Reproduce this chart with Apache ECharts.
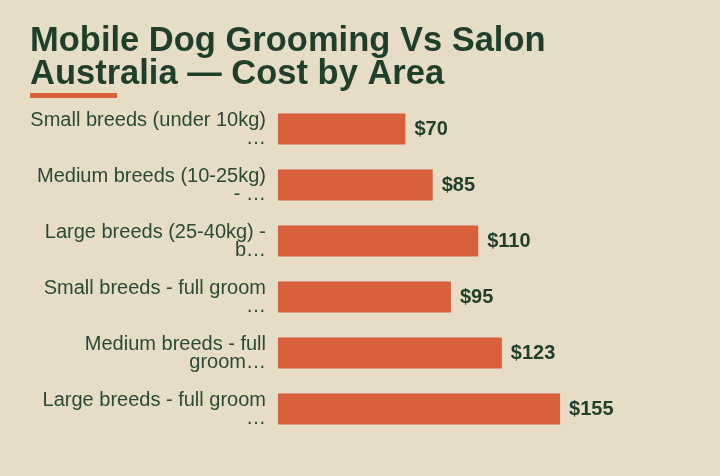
<!DOCTYPE html>
<html>
<head>
<meta charset="utf-8">
<style>
  html, body { margin: 0; padding: 0; background: #e7dcc5; }
  #chart { width: 720px; height: 476px; }
</style>
<script src="https://cdn.jsdelivr.net/npm/echarts@6/dist/echarts.min.js"></script>
</head>
<body>
<div id="chart"></div>
<script>
// categories as shown (already truncated in the source)
var categories = [
  "Small breeds (under 10kg)\n…",
  "Medium breeds (10-25kg)\n- …",
  "Large breeds (25-40kg) -\nb…",
  "Small breeds - full groom\n…",
  "Medium breeds - full\ngroom…",
  "Large breeds - full groom\n…"
];
var costs = [70, 85, 110, 95, 123, 155];

var chart = echarts.init(document.getElementById("chart"));
var dark = "#1e3f2c";
var font = "'Liberation Sans', Arial, sans-serif";

chart.setOption({
  backgroundColor: "#e7dcc5",
  animation: false,
  title: {
    text: "Mobile Dog Grooming Vs Salon\nAustralia — Cost by Area",
    left: 25,
    top: 20,
    textStyle: {
      fontFamily: font,
      fontSize: 34.5,
      fontWeight: "bold",
      lineHeight: 33,
      color: dark
    }
  },
  graphic: [{
    type: "rect",
    shape: { x: 30, y: 93, width: 87, height: 5 },
    style: { fill: "#d9603b" }
  }],
  grid: { left: 278, top: 101, width: 364, bottom: 39, containLabel: false },
  xAxis: {
    type: "value",
    min: 0,
    max: 200,
    show: false
  },
  yAxis: {
    type: "category",
    inverse: true,
    data: categories,
    axisLine: { show: false },
    axisTick: { show: false },
    axisLabel: {
      margin: 12,
      fontFamily: font,
      fontSize: 20,
      lineHeight: 18,
      color: "#2a4a37",
      align: "right"
    }
  },
  series: [{
    type: "bar",
    data: costs,
    barWidth: 31,
    itemStyle: { color: "#d9603b" },
    label: {
      show: true,
      position: "right",
      distance: 9,
      formatter: "${c}",
      fontFamily: font,
      fontSize: 20,
      fontWeight: "bold",
      color: dark
    }
  }]
});
</script>
</body>
</html>
